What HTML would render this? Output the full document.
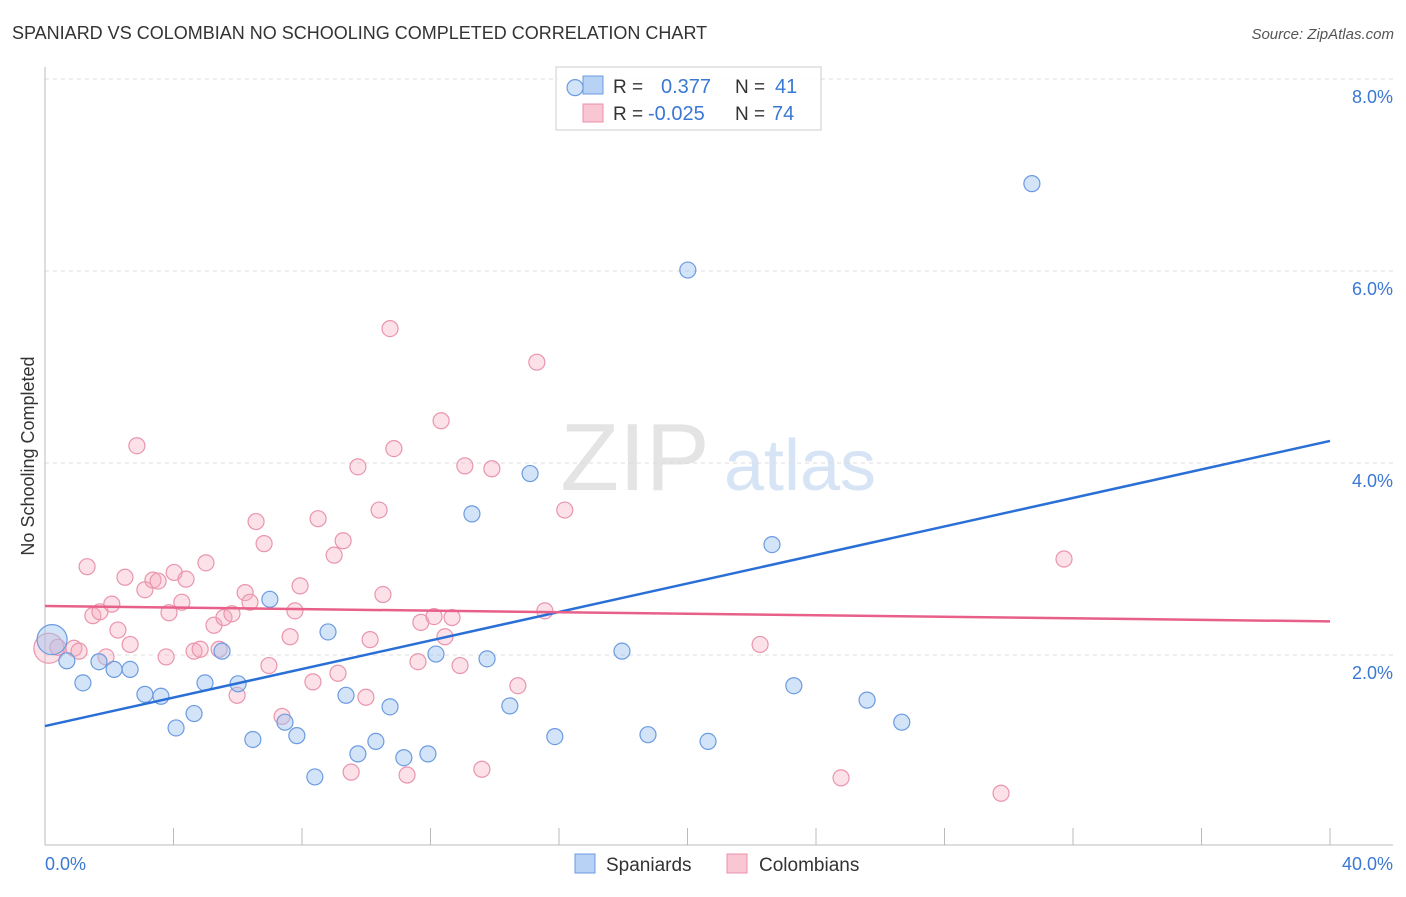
<!DOCTYPE html>
<html><head><meta charset="utf-8"><style>
body{margin:0;background:#fff;font-family:"Liberation Sans",sans-serif;}
svg text{font-family:"Liberation Sans",sans-serif;}
</style></head><body>
<svg id="c" width="1406" height="892" xmlns="http://www.w3.org/2000/svg">
<text x="12" y="39" font-size="18" fill="#333">SPANIARD VS COLOMBIAN NO SCHOOLING COMPLETED CORRELATION CHART</text>
<text x="1394" y="39" font-size="15" fill="#555" text-anchor="end" font-style="italic">Source: ZipAtlas.com</text>
<text x="34" y="456" font-size="18" fill="#333" text-anchor="middle" transform="rotate(-90 34 456)">No Schooling Completed</text>
<g><text x="635" y="490" font-size="96" fill="#e4e4e4" text-anchor="middle" font-family="Liberation Serif">ZIP</text><text x="800" y="490" font-size="72" fill="#d6e4f5" text-anchor="middle">atlas</text></g>
<g id="grid"></g><g id="axes"></g>
<g>
<rect x="556" y="67" width="265" height="63" fill="#fff" fill-opacity="0.85" stroke="#ccc"/>
<rect x="583" y="76" width="20" height="18" fill="#b8d2f5" stroke="#6b9be0"/>
<rect x="583" y="104" width="20" height="18" fill="#f9c6d4" stroke="#e890a8"/>
<text x="613" y="93" font-size="19" fill="#333">R = </text><text x="661" y="93" font-size="20" fill="#3a78d4">0.377</text>
<text x="735" y="93" font-size="19" fill="#333">N = </text><text x="775" y="93" font-size="20" fill="#3a78d4">41</text>
<text x="613" y="120" font-size="19" fill="#333">R = </text><text x="648" y="120" font-size="20" fill="#3a78d4">-0.025</text>
<text x="735" y="120" font-size="19" fill="#333">N = </text><text x="772" y="120" font-size="20" fill="#3a78d4">74</text>
</g>
<g id="pts"></g><g id="trend"></g>
<g>
<rect x="575" y="854" width="20" height="19" fill="#b8d2f5" stroke="#6b9be0"/>
<text x="606" y="871" font-size="19" fill="#333">Spaniards</text>
<rect x="727" y="854" width="20" height="19" fill="#f9c6d4" stroke="#e890a8"/>
<text x="759" y="871" font-size="19" fill="#333">Colombians</text>
</g>
</svg>
<script>
const blueX=[0.22,0.68,1.18,1.68,2.15,2.65,3.11,3.61,4.08,4.64,4.98,5.51,6.01,6.47,7.00,7.47,7.84,8.40,8.81,9.37,9.74,10.30,10.74,11.17,11.92,12.17,13.29,13.76,14.47,15.10,15.87,16.50,17.96,18.77,20.01,20.64,22.63,23.31,25.59,26.67,30.72];
const blueY=[2.16,1.94,1.71,1.93,1.85,1.85,1.59,1.57,1.24,1.39,1.71,2.04,1.70,1.12,2.58,1.30,1.16,0.73,2.24,1.58,0.97,1.10,1.46,0.93,0.97,2.01,3.47,1.96,1.47,3.89,1.15,7.91,2.04,1.17,6.01,1.10,3.15,1.68,1.53,1.30,6.91];
const pinkX=[2.86,0.12,0.40,0.90,1.06,1.31,1.49,1.71,1.90,2.08,2.27,2.49,2.65,3.11,3.36,3.52,3.77,3.86,4.02,4.26,4.39,4.64,4.83,5.01,5.26,5.42,5.57,5.82,5.98,6.23,6.38,6.57,6.82,6.97,7.38,7.63,7.78,7.94,8.34,8.50,9.00,9.28,9.12,9.53,9.74,9.99,10.12,10.40,10.52,10.74,10.86,11.27,11.61,11.70,12.11,12.33,12.45,12.67,12.92,13.07,13.60,13.91,14.72,15.31,15.56,16.18,22.26,24.78,29.76,31.72];
const pinkY=[4.18,2.07,2.08,2.07,2.04,2.92,2.41,2.45,1.98,2.53,2.26,2.81,2.11,2.68,2.78,2.77,1.98,2.44,2.86,2.55,2.79,2.04,2.06,2.96,2.31,2.06,2.39,2.43,1.58,2.65,2.55,3.39,3.16,1.89,1.36,2.19,2.46,2.72,1.72,3.42,3.04,3.19,1.81,0.78,3.96,1.56,2.16,3.51,2.63,5.40,4.15,0.75,1.93,2.34,2.40,4.44,2.19,2.39,1.89,3.97,0.81,3.94,1.68,5.05,2.46,3.51,2.11,0.72,0.56,3.00];
const blueTrend=[1.26,4.23];
const pinkTrend=[2.51,2.35];
const yTicks=[2,4,6,8];
const yTickLabels=["2.0%","4.0%","6.0%","8.0%"];
const xTicks=[4,8,12,16,20,24,28,32,36,40];
const xEndLabels=["0.0%","40.0%"];
const NS="http://www.w3.org/2000/svg";
const sx=v=>45+v/40*1285, sy=v=>847-v*96;
function mk(tag,attrs,parent){const e=document.createElementNS(NS,tag);for(const k in attrs)e.setAttribute(k,attrs[k]);document.getElementById(parent).appendChild(e);return e;}
yTicks.forEach((t,i)=>{
 const l=mk('line',{x1:45,x2:1393,y1:sy(t),y2:sy(t),stroke:'#ddd','stroke-dasharray':'4,4'},'grid');
 
 
 const tx=mk('text',{x:1393,y:sy(t)+24,'font-size':18,fill:'#3a78d4','text-anchor':'end'},'grid');
 tx.textContent=yTickLabels[i];
 
 
});
const ax=mk('line',{x1:45,x2:1393,y1:845,y2:845,stroke:'#bbb'},'axes');


const ay=mk('line',{x1:45,x2:45,y1:67,y2:845,stroke:'#bbb'},'axes');


xTicks.forEach(t=>{
 const l=mk('line',{x1:sx(t),x2:sx(t),y1:828,y2:845,stroke:'#bbb'},'axes');
 
 
});
const xl0=mk('text',{x:45,y:870,'font-size':18,fill:'#3a78d4'},'axes');xl0.textContent=xEndLabels[0];


const xl1=mk('text',{x:1393,y:870,'font-size':18,fill:'#3a78d4','text-anchor':'end'},'axes');xl1.textContent=xEndLabels[1];


function dots(X,Y,fill,stroke,name){X.forEach((x,i)=>{
 const r=(i<2&&x<0.5)?15:8;
 const c=mk('circle',{cx:sx(x),cy:sy(Y[i]),r:r,fill:fill,stroke:stroke,'stroke-width':1.2},'pts');
 
 
});}
dots(pinkX,pinkY,'rgba(245,168,190,0.35)','#e995ad','colombian-point');
dots(blueX,blueY,'rgba(160,196,240,0.45)','#6b9be0','spaniard-point');
const bt=mk('line',{x1:sx(0),x2:sx(40),y1:sy(blueTrend[0]),y2:sy(blueTrend[1]),stroke:'#2a6fd6','stroke-width':2.5},'trend');


const pt=mk('line',{x1:sx(0),x2:sx(40),y1:sy(pinkTrend[0]),y2:sy(pinkTrend[1]),stroke:'#e8608a','stroke-width':2.5},'trend');


</script>
</body></html>
